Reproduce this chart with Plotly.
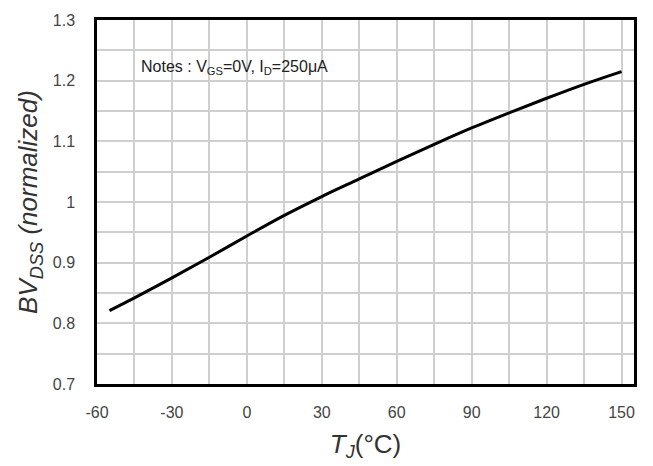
import plotly.graph_objects as go

# Data
tj = [-55, -45, -30, -15, 0, 15, 30, 45, 60, 75, 90, 105, 120, 135, 150]
bv = [0.821, 0.842, 0.875, 0.909, 0.944, 0.978, 1.009, 1.038, 1.067, 1.095,
      1.122, 1.147, 1.171, 1.194, 1.215]

x_ticks = [-60, -30, 0, 30, 60, 90, 120, 150]
x_ticklabels = ["-60", "-30", "0", "30", "60", "90", "120", "150"]
y_ticks = [0.7, 0.8, 0.9, 1.0, 1.1, 1.2, 1.3]
y_ticklabels = ["0.7", "0.8", "0.9", "1", "1.1", "1.2", "1.3"]

FONT = "Liberation Sans, Arial, sans-serif"
GRID = "#cfcfcf"

fig = go.Figure()
fig.add_trace(go.Scatter(x=tj, y=bv, mode="lines",
                         line=dict(color="black", width=3, shape="spline", smoothing=1.0),
                         showlegend=False, hoverinfo="skip"))

fig.add_annotation(x=-43, y=1.221, xref="x", yref="y", xanchor="left", yanchor="middle",
                   text="Notes : V<sub>GS</sub>=0V, I<sub>D</sub>=250μA",
                   showarrow=False, font=dict(family=FONT, size=16, color="#222"))

fig.update_layout(
    width=653, height=466,
    margin=dict(l=97, r=19, t=18, b=81),
    paper_bgcolor="white", plot_bgcolor="white",
    font=dict(family=FONT),
    xaxis=dict(range=[-60, 155], tickmode="array", tickvals=x_ticks, ticktext=x_ticklabels,
               showgrid=True, gridcolor=GRID, gridwidth=2,
               minor=dict(dtick=15, tick0=-60, showgrid=True, gridcolor=GRID, gridwidth=2),
               showline=True, linecolor="black", linewidth=2.5, mirror=True,
               ticks="", ticklabelstandoff=12,
               tickfont=dict(family=FONT, size=16, color="#444"),
               zeroline=False,
               title=dict(text="<i>T<sub>J</sub></i>(°C)", standoff=15,
                          font=dict(family=FONT, size=26, color="#333"))),
    yaxis=dict(range=[0.7, 1.3], tickmode="array", tickvals=y_ticks, ticktext=y_ticklabels,
               showgrid=True, gridcolor=GRID, gridwidth=2,
               minor=dict(dtick=0.05, tick0=0.7, showgrid=True, gridcolor=GRID, gridwidth=2),
               showline=True, linecolor="black", linewidth=2.5, mirror=True,
               ticks="", ticklabelstandoff=16,
               tickfont=dict(family=FONT, size=16, color="#444"),
               zeroline=False,
               title=dict(text="<i>BV<sub>DSS</sub> (normalized)</i>", standoff=8,
                          font=dict(family=FONT, size=26, color="#333"))),
)

fig.write_html("out.html", config={"displayModeBar": False},
               post_script="document.body.style.margin='0';document.body.style.overflow='hidden';")
